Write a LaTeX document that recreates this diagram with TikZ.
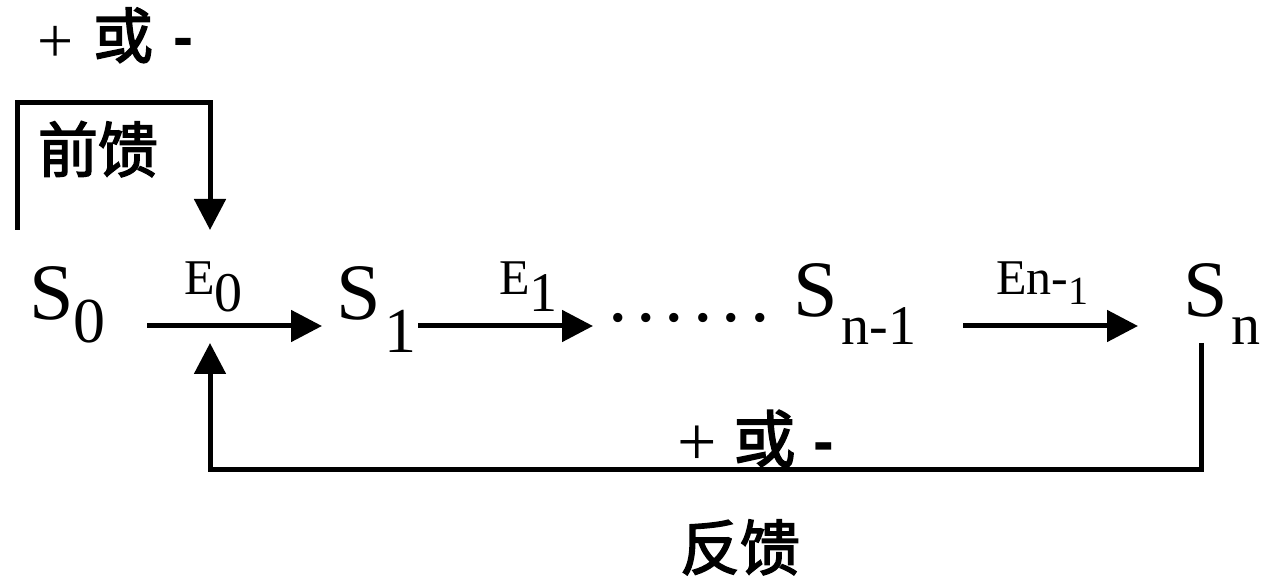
\documentclass[tikz,border=0pt]{standalone}
\usepackage{fontspec}
\setmainfont{Liberation Serif}
\newfontfamily\cjk{Noto Sans CJK SC}[FakeBold=2.5]
\newfontfamily\sansbold{Liberation Sans}
\usetikzlibrary{arrows.meta}
\newcommand{\fs}[1]{\fontsize{#1}{#1}\selectfont}
\newcommand{\lowsub}[3]{\raisebox{-#1}{\fs{#2}#3}}
\newcommand{\plusorminus}[5]{\raisebox{-#5}{\fs{#1}+}\hspace{#3}{\cjk\fs{#2}或}\hspace{#4}{\sansbold\bfseries\fs{#2}-}}
\begin{document}
\begin{tikzpicture}[x=1pt,y=-1pt,
  lbl/.style={inner sep=0pt, outer sep=0pt, anchor=base west},
  conn/.style={line width=5pt, -{Triangle[length=31pt,width=31pt]}}]
\useasboundingbox (0,0) rectangle (1262,577);

% states
\node[lbl] (S0) at (29,320) {\fs{80}S\lowsub{23pt}{64}{0}};
\node[lbl] (S1) at (336,320) {\fs{80}S\hspace{4pt}\lowsub{33pt}{64}{1}};
\node[lbl] (dots) at (608,322) {\fs{78}.\hspace{9pt}.\hspace{9pt}.\hspace{9pt}.\hspace{9pt}.\hspace{9pt}.};
\node[lbl] (Sn1) at (793,317) {\fs{80}S\hspace{4pt}\lowsub{28pt}{56}{n-1}};
\node[lbl] (Sn) at (1183,317) {\fs{80}S\hspace{4pt}\lowsub{28pt}{58}{n}};

% edge labels
\node[lbl] (E0) at (184,295) {\fs{50}E\lowsub{17pt}{56}{0}};
\node[lbl] (E1) at (499,295) {\fs{50}E\lowsub{17pt}{56}{1}};
\node[lbl] (En1) at (996,295) {\fs{50}En-\lowsub{10pt}{40}{1}};

% signs and captions
\node[lbl] (signtop) at (37,58) {\plusorminus{64}{60}{20pt}{20pt}{5pt}};
\node[lbl] (ff) at (38,172) {\cjk\fs{60}前馈};
\node[lbl] (signbot) at (677,462) {\plusorminus{70}{62}{17pt}{18pt}{3pt}};
\node[lbl] (fb) at (680,570) {\cjk\fs{60}反馈};

% connector end points
\coordinate (a0) at (147,326);
\coordinate (b0) at (322,326);
\coordinate (a1) at (418,326);
\coordinate (b1) at (593,326);
\coordinate (a2) at (963,326);
\coordinate (b2) at (1138,326);
\coordinate (ffstart) at (17,230);
\coordinate (fftip) at (210,230);
\coordinate (fbstart) at (1201,343);
\coordinate (fbtip) at (210,343);

\draw[conn] (a0) -- (b0);
\draw[conn] (a1) -- (b1);
\draw[conn] (a2) -- (b2);
\draw[conn] (ffstart) -- (17,103) -- (210,103) -- (fftip);
\draw[conn] (fbstart) -- (1201,469) -- (210,469) -- (fbtip);
\end{tikzpicture}
\end{document}
